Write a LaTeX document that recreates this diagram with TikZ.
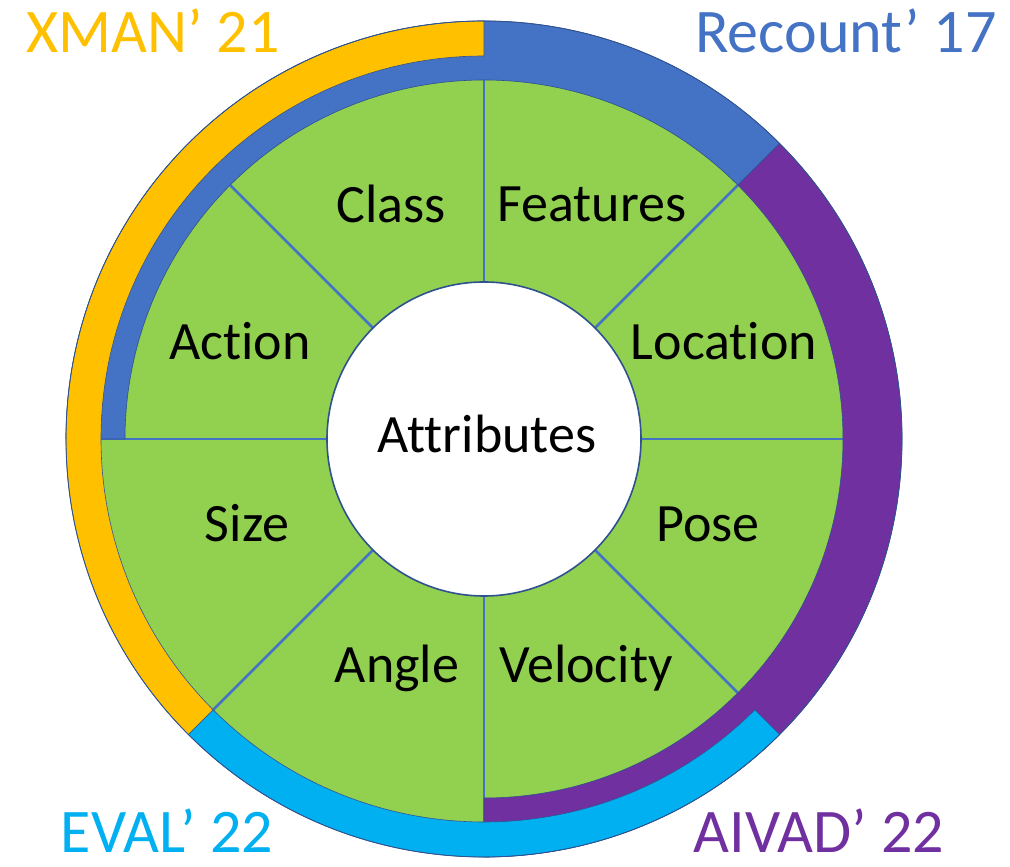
\documentclass[tikz,border=0pt]{standalone}
\usepackage{fontspec}
\setmainfont[Ligatures={NoCommon}]{Carlito}
\usetikzlibrary{positioning, calc}

\definecolor{leafgreen}{HTML}{92D050}
\definecolor{xmanyellow}{HTML}{FFC000}
\definecolor{recountblue}{HTML}{4472C4}
\definecolor{aivadpurple}{HTML}{7030A0}
\definecolor{evalcyan}{HTML}{00B0F0}
\definecolor{rimline}{HTML}{2F528F}

\begin{document}
\begin{tikzpicture}[
        x=1pt, y=1pt,
        % Styles
        spoke/.style={draw=recountblue, line width=2.6pt},
        band/.style={fill=#1, draw=rimline, line width=0.6pt},
        attr/.style={font=\fontsize{54}{60}\selectfont, anchor=base, inner sep=0pt},
        paper/.style={font=\fontsize{62}{68}\selectfont, anchor=base, inner sep=0pt, text=#1}
    ]
    \useasboundingbox (0,0) rectangle (1010,867);
    \coordinate (c) at (484,428);

    % Green wheel and spokes
    \fill[leafgreen] (c) circle[radius=383];
    \foreach \ang in {0,45,...,315}
        \draw[spoke] ($(c)+(\ang:150)$) -- ($(c)+(\ang:383)$);

    % Paper bands (full width first, outer ones on top)
    \draw[band=recountblue] ($(c)+(45:359)$) arc[start angle=45, end angle=180, radius=359]
        -- ($(c)+(180:418)$) arc[start angle=180, end angle=45, radius=418] -- cycle;
    \draw[band=aivadpurple] ($(c)+(-90:359)$) arc[start angle=-90, end angle=45, radius=359]
        -- ($(c)+(45:418)$) arc[start angle=45, end angle=-90, radius=418] -- cycle;
    \draw[band=xmanyellow] ($(c)+(90:383)$) arc[start angle=90, end angle=225, radius=383]
        -- ($(c)+(225:418)$) arc[start angle=225, end angle=90, radius=418] -- cycle;
    \draw[band=evalcyan] ($(c)+(225:383)$) arc[start angle=225, end angle=315, radius=383]
        -- ($(c)+(315:418)$) arc[start angle=315, end angle=225, radius=418] -- cycle;
    \draw[rimline, line width=0.8pt] (c) circle[radius=418];

    % Hub
    \draw[fill=white, draw=rimline, line width=1.6pt] (c) circle[radius=157];
    \node[attr] (hub) at (487,414) {Attributes};

    % Sector labels
    \node[attr] (class) at (391,644) {Class};
    \node[attr] (features) at (592,645) {Features};
    \node[attr] (action) at (240,507) {Action};
    \node[attr] (location) at (724,507) {Location};
    \node[attr] (size) at (247,325) {Size};
    \node[attr] (pose) at (708,325) {Pose};
    \node[attr] (angle) at (397,184) {Angle};
    \node[attr] (velocity) at (586,184) {Velocity};

    % Paper labels
    \node[paper=xmanyellow] (xman) at (153,814) {XMAN’ 21};
    \node[paper=recountblue] (recount) at (846,814) {Recount’ 17};
    \node[paper=evalcyan] (eval) at (167,14) {EVAL’ 22};
    \node[paper=aivadpurple] (aivad) at (819,14) {AIVAD’ 22};

\end{tikzpicture}
\end{document}
